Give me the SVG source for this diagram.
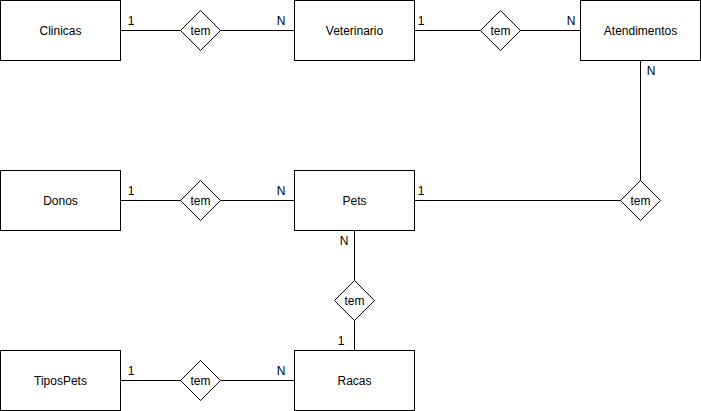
<svg xmlns="http://www.w3.org/2000/svg" width="701" height="411" viewBox="0 0 701 411">
<style>
.ent{fill:#fff;stroke:#000;stroke-width:1}
.rel{fill:#fff;stroke:#000;stroke-width:1}
.t{font-family:"Liberation Sans",Arial,sans-serif;font-size:12px;fill:#000;text-anchor:middle;dominant-baseline:central}
.c{stroke:#000;stroke-width:1;fill:none}
</style>
<rect width="701" height="411" fill="#fff"/>
<g id="connectors">
<path class="c" d="M120.5 30.5H180.5M220.5 30.5H294.5"/>
<path class="c" d="M414.5 30.5H480.5M520.5 30.5H580.5"/>
<path class="c" d="M640.5 60.5V180.5M414.5 200.5H620.5"/>
<path class="c" d="M120.5 200.5H180.5M220.5 200.5H294.5"/>
<path class="c" d="M354.5 230.5V280.5M354.5 320.5V350.5"/>
<path class="c" d="M120.5 380.5H180.5M220.5 380.5H294.5"/>
<text class="t" x="131" y="21">1</text>
<text class="t" x="281" y="21">N</text>
<text class="t" x="421" y="21">1</text>
<text class="t" x="571" y="21">N</text>
<text class="t" x="651" y="71">N</text>
<text class="t" x="421" y="191">1</text>
<text class="t" x="131" y="191">1</text>
<text class="t" x="281" y="191">N</text>
<text class="t" x="344" y="241">N</text>
<text class="t" x="341" y="341">1</text>
<text class="t" x="131" y="371">1</text>
<text class="t" x="281" y="371">N</text>
</g>
<g id="clinicas"><rect class="ent" x="0.5" y="0.5" width="120" height="60"/><text class="t" x="60.5" y="30.5">Clinicas</text></g>
<g id="veterinario"><rect class="ent" x="294.5" y="0.5" width="120" height="60"/><text class="t" x="354.5" y="30.5">Veterinario</text></g>
<g id="atendimentos"><rect class="ent" x="580.5" y="0.5" width="120" height="60"/><text class="t" x="640.5" y="30.5">Atendimentos</text></g>
<g id="donos"><rect class="ent" x="0.5" y="170.5" width="120" height="60"/><text class="t" x="60.5" y="200.5">Donos</text></g>
<g id="pets"><rect class="ent" x="294.5" y="170.5" width="120" height="60"/><text class="t" x="354.5" y="200.5">Pets</text></g>
<g id="tipospets"><rect class="ent" x="0.5" y="350.5" width="120" height="60"/><text class="t" x="60.5" y="380.5">TiposPets</text></g>
<g id="racas"><rect class="ent" x="294.5" y="350.5" width="120" height="60"/><text class="t" x="354.5" y="380.5">Racas</text></g>
<g id="tem1"><path class="rel" d="M200.5 10.5L220.5 30.5L200.5 50.5L180.5 30.5Z"/><text class="t" x="200.5" y="30.5">tem</text></g>
<g id="tem2"><path class="rel" d="M500.5 10.5L520.5 30.5L500.5 50.5L480.5 30.5Z"/><text class="t" x="500.5" y="30.5">tem</text></g>
<g id="tem3"><path class="rel" d="M640.5 180.5L660.5 200.5L640.5 220.5L620.5 200.5Z"/><text class="t" x="640.5" y="200.5">tem</text></g>
<g id="tem4"><path class="rel" d="M200.5 180.5L220.5 200.5L200.5 220.5L180.5 200.5Z"/><text class="t" x="200.5" y="200.5">tem</text></g>
<g id="tem5"><path class="rel" d="M354.5 280.5L374.5 300.5L354.5 320.5L334.5 300.5Z"/><text class="t" x="354.5" y="300.5">tem</text></g>
<g id="tem6"><path class="rel" d="M200.5 360.5L220.5 380.5L200.5 400.5L180.5 380.5Z"/><text class="t" x="200.5" y="380.5">tem</text></g>
</svg>
